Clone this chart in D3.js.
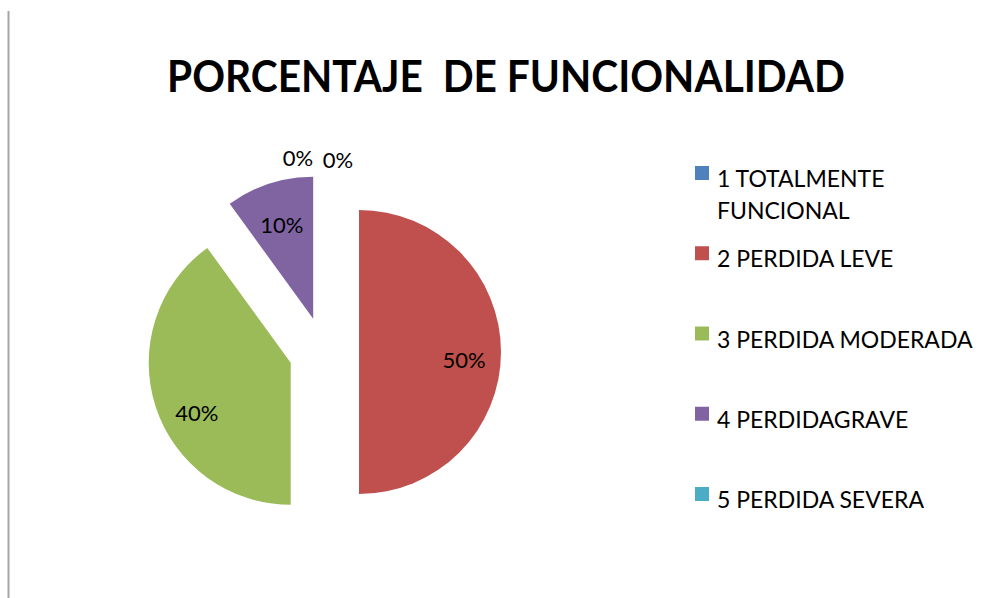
<!DOCTYPE html>
<html>
<head>
<meta charset="utf-8">
<script src="https://cdn.jsdelivr.net/npm/d3@7"></script>
<style>
  body { margin: 0; background: #fff; }
  text { font-family: Lato, "Open Sans", sans-serif; fill: #000; }
</style>
</head>
<body>
<div id="chart"></div>
<script>
// Data
var categories = ["1 TOTALMENTE FUNCIONAL", "2 PERDIDA LEVE", "3 PERDIDA MODERADA", "4 PERDIDAGRAVE", "5 PERDIDA SEVERA"];
var legendLines = [["1 TOTALMENTE", "FUNCIONAL"], ["2 PERDIDA LEVE"], ["3 PERDIDA MODERADA"], ["4 PERDIDAGRAVE"], ["5 PERDIDA SEVERA"]];
var values = [0, 50, 40, 10, 0];
var colors = ["#4F81BD", "#C0504D", "#9BBB59", "#8064A2", "#4BACC6"];

var svgWidth = 981;
var svgHeight = 598;

var svg = d3.select("#chart")
  .append("svg")
  .attr("width", svgWidth)
  .attr("height", svgHeight);

// left border of the frame
svg.append("line")
  .attr("x1", 8.5).attr("x2", 8.5)
  .attr("y1", 11).attr("y2", svgHeight)
  .attr("stroke", "#a6a6a6")
  .attr("stroke-width", 2);

// Title
svg.append("text")
  .attr("x", 506)
  .attr("y", 92)
  .attr("text-anchor", "middle")
  .attr("textLength", 678)
  .attr("lengthAdjust", "spacingAndGlyphs")
  .style("font-weight", "bold")
  .style("font-size", "44px")
  .style("white-space", "pre")
  .text("PORCENTAJE  DE FUNCIONALIDAD");

// Pie
var cx = 324, cy = 352, radius = 142, explode = 35;
var total = d3.sum(values);

var pie = d3.pie().sort(null).value(d => d);
var arcs = pie(values);
var arc = d3.arc().innerRadius(0).outerRadius(radius);

var pieGroup = svg.append("g")
  .attr("transform", `translate(${cx}, ${cy})`);

function offset(d, dist) {
  var a = (d.startAngle + d.endAngle) / 2;
  return [Math.sin(a) * dist, -Math.cos(a) * dist];
}

pieGroup.selectAll("path")
  .data(arcs)
  .enter()
  .append("path")
  .attr("transform", d => {
    var o = offset(d, d.value > 0 ? explode : 0);
    return `translate(${o[0]}, ${o[1]})`;
  })
  .attr("d", arc)
  .attr("fill", (d, i) => colors[i]);

// Labels: inside the slice for non-zero values, above the pie for the 0% ones
var labelNudge = [[-26, 8], [0, 16], [6, 26], [1, 14], [14, 10]];

pieGroup.selectAll("text.lbl")
  .data(arcs)
  .enter()
  .append("text")
  .attr("class", "lbl")
  .attr("text-anchor", "middle")
  .style("font-size", "22px")
  .attr("x", (d, i) => offset(d, d.value > 0 ? explode + 105 : radius + 52)[0] + labelNudge[i][0])
  .attr("y", (d, i) => offset(d, d.value > 0 ? explode + 105 : radius + 52)[1] + labelNudge[i][1])
  .text(d => Math.round(d.value / total * 100) + "%");

// Legend
var legendY = d3.scalePoint()
  .domain(categories)
  .range([187, 508]);

var legend = svg.selectAll("g.legend")
  .data(categories)
  .enter()
  .append("g")
  .attr("class", "legend")
  .attr("transform", d => `translate(0, ${legendY(d)})`);

legend.append("rect")
  .attr("x", 695)
  .attr("y", -21)
  .attr("width", 14)
  .attr("height", 14)
  .attr("fill", (d, i) => colors[i]);

legend.append("text")
  .attr("x", 717)
  .attr("y", 0)
  .style("font-size", "23px")
  .selectAll("tspan")
  .data((d, i) => legendLines[i])
  .enter()
  .append("tspan")
  .attr("x", 717)
  .attr("dy", (d, j) => j === 0 ? 0 : 32)
  .text(d => d);
</script>
</body>
</html>
